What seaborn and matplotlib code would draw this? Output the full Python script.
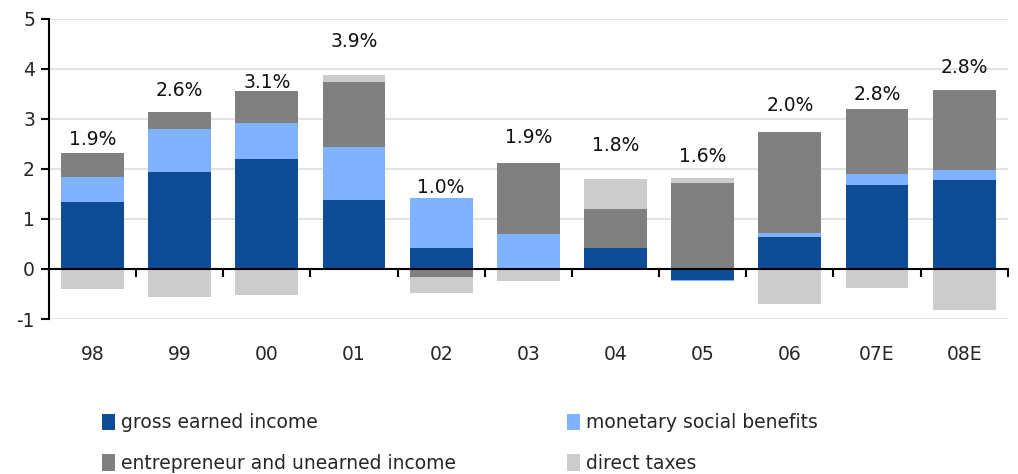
import numpy as np
import pandas as pd
import matplotlib
matplotlib.use("Agg")
import matplotlib.pyplot as plt
import seaborn as sns
from matplotlib.patches import Patch
from matplotlib.ticker import MultipleLocator

# ---- data ----
categories = ["98", "99", "00", "01", "02", "03", "04", "05", "06", "07E", "08E"]
gross_earned = [1.34, 1.94, 2.20, 1.38, 0.42, 0.00, 0.42, -0.22, 0.64, 1.68, 1.78]
social_benefits = [0.50, 0.86, 0.72, 1.05, 1.00, 0.70, 0.00, -0.03, 0.08, 0.22, 0.20]
entrepreneur = [0.48, 0.34, 0.64, 1.31, -0.17, 1.42, 0.78, 1.72, 2.02, 1.30, 1.60]
direct_taxes = [-0.41, -0.57, -0.53, 0.13, -0.32, -0.25, 0.60, 0.10, -0.71, -0.39, -0.81]
growth_labels = ["1.9%", "2.6%", "3.1%", "3.9%", "1.0%", "1.9%", "1.8%", "1.6%", "2.0%", "2.8%", "2.8%"]
label_heights = [2.58, 3.56, 3.72, 4.54, 1.62, 2.62, 2.46, 2.24, 3.26, 3.48, 4.02]

series_names = ["gross earned income", "monetary social benefits",
                "entrepreneur and unearned income", "direct taxes"]
series_values = [gross_earned, social_benefits, entrepreneur, direct_taxes]
colors = ["#0F4C96", "#80B3FF", "#808080", "#CCCCCC"]

sns.set_theme(style="white")
plt.rcParams["font.family"] = ["DejaVu Sans"]

fig = plt.figure(figsize=(10.18, 4.74), dpi=100)
ax = fig.add_axes([0.048, 0.327, 0.942, 0.633])

pos_base = np.zeros(len(categories))
neg_base = np.zeros(len(categories))
for name, vals, col in zip(series_names, series_values, colors):
    v = np.array(vals, dtype=float)
    bottom = np.where(v >= 0, pos_base, neg_base)
    df = pd.DataFrame({"cat": categories, "val": v})
    sns.barplot(data=df, x="cat", y="val", order=categories, bottom=bottom,
                color=col, saturation=1, width=0.72, linewidth=0, ax=ax,
                errorbar=None)
    pos_base = pos_base + np.where(v >= 0, v, 0)
    neg_base = neg_base + np.where(v < 0, v, 0)

for i, (lab, h) in enumerate(zip(growth_labels, label_heights)):
    ax.text(i, h, lab, ha="center", va="center", fontsize=13.5, color="#111111")

ax.set_ylim(-1, 5)
ax.set_xlim(-0.5, len(categories) - 0.5)
ax.yaxis.set_major_locator(MultipleLocator(1))
ax.set_yticks(range(-1, 6))
ax.set_yticklabels([str(t) for t in range(-1, 6)])
ax.set_axisbelow(True)
ax.yaxis.grid(True, color="#e0e0e0", linewidth=1.3)
ax.xaxis.grid(False)

for s in ["top", "right"]:
    ax.spines[s].set_visible(False)
ax.spines["left"].set_color("black")
ax.spines["left"].set_linewidth(1.5)
ax.spines["bottom"].set_position(("data", 0))
ax.spines["bottom"].set_color("black")
ax.spines["bottom"].set_linewidth(1.5)
ax.spines["bottom"].set_zorder(5)

ax.set_xlabel("")
ax.set_ylabel("")
ax.tick_params(axis="y", which="major", direction="out", length=6, width=1.5,
               color="black", labelsize=13.5, pad=4, left=True)
ax.set_xticks(range(len(categories)))
ax.set_xticklabels(categories)
ax.set_xticks(np.arange(len(categories) + 1) - 0.5, minor=True)
ax.tick_params(axis="x", which="major", length=0, labelsize=13.5, pad=55, bottom=True)
ax.tick_params(axis="x", which="minor", direction="out", length=6, width=1.5,
               color="black", bottom=True)

order = [0, 2, 1, 3]
handles = [Patch(facecolor=colors[k], edgecolor="none") for k in order]
labels = [series_names[k] for k in order]
fig.legend(handles, labels, ncol=2, loc="upper left", bbox_to_anchor=(0.100, 0.128),
           frameon=False, fontsize=13.5, handlelength=0.7, handleheight=1.0,
           handletextpad=0.3, columnspacing=5.95, labelspacing=1.15,
           borderaxespad=0, borderpad=0)

fig.savefig("out.png", dpi=100)
